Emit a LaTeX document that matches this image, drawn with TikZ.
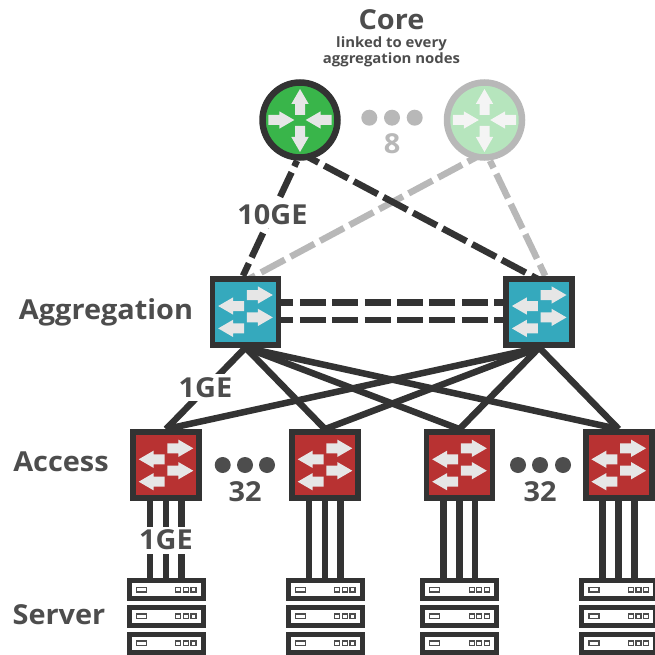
\documentclass[tikz,border=0pt]{standalone}
\usepackage{fontspec}
\setmainfont[FakeStretch=1.05]{Open Sans}
\usetikzlibrary{backgrounds}

\definecolor{linedark}{HTML}{333333}
\definecolor{linegrey}{HTML}{B8B8B8}
\definecolor{textdark}{HTML}{4D4D4D}
\definecolor{routergreen}{HTML}{39B54A}
\definecolor{routerpale}{HTML}{B6E5BD}
\definecolor{switchteal}{HTML}{35A9BD}
\definecolor{switchred}{HTML}{B83232}
\definecolor{glyphgrey}{HTML}{E6E6E6}
\definecolor{glyphpale}{HTML}{F4F4F4}

\tikzset{
  router/.style = {circle, draw = linedark, line width = 6.5pt, fill = routergreen, minimum size = 75pt, inner sep = 0pt},
  routerfaded/.style = {router, draw = linegrey, fill = routerpale},
  switchbox/.style = {rectangle, draw = linedark, line width = 5.8pt, minimum size = 66pt, inner sep = 0pt},
  server/.style = {rectangle, draw = linedark, line width = 5pt, fill = white, minimum width = 74pt, minimum height = 17.8pt, inner sep = 0pt},
  tierlabel/.style = {anchor = base, text = textdark, font = \bfseries\fontsize{27.5}{30}\selectfont, inner sep = 0pt},
  notelabel/.style = {anchor = base, text = textdark, font = \bfseries\fontsize{14.2}{18}\selectfont, inner sep = 0pt},
  speedlabel/.style = {tierlabel, anchor = center, fill = white, minimum height = 27pt, inner xsep = 1pt},
  dotdark/.style = {circle, fill = textdark, minimum size = 16pt, inner sep = 0pt},
  dotgrey/.style = {circle, fill = linegrey, minimum size = 16pt, inner sep = 0pt},
  link/.style = {draw = linedark, line width = 6.5pt},
  trunk/.style = {link, dash pattern = on 27pt off 6.5pt},
  trunkfaded/.style = {trunk, draw = linegrey},
  lag/.style = {link, dash pattern = on 26pt off 6.4pt, dash phase = 14pt},
  bay/.style = {draw = textdark, line width = 1.3pt}
}

\newcommand{\arrowglyph}[4]{
  \fill[#4, shift = {(#1, #2)}, rotate = #3] (0, -5) -- (11, -5) -- (11, -8.7) -- (26, 0) -- (11, 8.7) -- (11, 5) -- (0, 5) -- cycle;
}
\newcommand{\routerglyphs}[2]{
  \begin{scope}[shift = {(#1.center)}]
    \arrowglyph{0}{-5}{90}{#2}
    \arrowglyph{0}{6}{-90}{#2}
    \arrowglyph{-31.7}{0}{0}{#2}
    \arrowglyph{31.7}{0}{180}{#2}
  \end{scope}
}
\newcommand{\switchglyphs}[1]{
  \begin{scope}[shift = {(#1.center)}]
    \arrowglyph{1.3}{-16.7}{0}{glyphgrey}
    \arrowglyph{1.3}{5.7}{0}{glyphgrey}
    \arrowglyph{-1.3}{-5.7}{180}{glyphgrey}
    \arrowglyph{-1.3}{16.7}{180}{glyphgrey}
  \end{scope}
}
\newcommand{\serverbays}[1]{
  \begin{scope}[shift = {(#1.center)}]
    \draw[bay] (-29.7, -2.4) rectangle (-19.7, 2.4);
    \draw[bay] (9.7, -2.4) rectangle (14.7, 2.4);
    \draw[bay] (17.3, -2.4) rectangle (22.3, 2.4);
    \draw[bay] (25, -2.4) rectangle (30, 2.4);
  \end{scope}
}

\begin{document}
\begin{tikzpicture}[x = 1pt, y = -1pt]
\useasboundingbox (0, 0) rectangle (654, 655);

% tier names
\node[tierlabel] (coretitle) at (391.5, 29.3) {Core};
\node[notelabel] (corenote1) at (391.5, 47.7) {linked to every};
\node[notelabel] (corenote2) at (391.5, 63.3) {aggregation nodes};
\node[tierlabel] (aggtitle) at (106, 319.5) {Aggregation};
\node[tierlabel] (acctitle) at (61, 471.7) {Access};
\node[tierlabel] (srvtitle) at (59, 624) {Server};

% core
\node[router] (core1) at (300, 120) {};
\node[routerfaded] (core2) at (484.5, 120) {};
\routerglyphs{core1}{glyphgrey}
\routerglyphs{core2}{glyphpale}
\node[dotgrey] (coredot1) at (369.3, 117.7) {};
\node[dotgrey] (coredot2) at (392, 117.7) {};
\node[dotgrey] (coredot3) at (414.7, 117.7) {};
\node[tierlabel, text = linegrey] (corecount) at (392, 153.3) {8};

% aggregation
\node[switchbox, fill = switchteal] (agg1) at (245.5, 311.7) {};
\node[switchbox, fill = switchteal] (agg2) at (539.2, 311.7) {};
\switchglyphs{agg1}
\switchglyphs{agg2}

% access
\node[switchbox, fill = switchred] (acc1) at (166, 465) {};
\node[switchbox, fill = switchred] (acc2) at (325, 465) {};
\node[switchbox, fill = switchred] (acc3) at (459.5, 465) {};
\node[switchbox, fill = switchred] (acc4) at (618.7, 465) {};
\switchglyphs{acc1}
\switchglyphs{acc2}
\switchglyphs{acc3}
\switchglyphs{acc4}
\node[dotdark] (accdot1) at (222.7, 465) {};
\node[dotdark] (accdot2) at (245, 465) {};
\node[dotdark] (accdot3) at (267, 465) {};
\node[tierlabel] (acccount1) at (245, 501) {32};
\node[dotdark] (accdot4) at (518, 465) {};
\node[dotdark] (accdot5) at (540, 465) {};
\node[dotdark] (accdot6) at (563, 465) {};
\node[tierlabel] (acccount2) at (540, 501) {32};

% servers
\node[server] (srv1a) at (166, 589.7) {};
\node[server] (srv1b) at (166, 616.3) {};
\node[server] (srv1c) at (166, 643.3) {};
\node[server] (srv2a) at (325, 589.7) {};
\node[server] (srv2b) at (325, 616.3) {};
\node[server] (srv2c) at (325, 643.3) {};
\node[server] (srv3a) at (459.5, 589.7) {};
\node[server] (srv3b) at (459.5, 616.3) {};
\node[server] (srv3c) at (459.5, 643.3) {};
\node[server] (srv4a) at (618.7, 589.7) {};
\node[server] (srv4b) at (618.7, 616.3) {};
\node[server] (srv4c) at (618.7, 643.3) {};
\serverbays{srv1a}
\serverbays{srv1b}
\serverbays{srv1c}
\serverbays{srv2a}
\serverbays{srv2b}
\serverbays{srv2c}
\serverbays{srv3a}
\serverbays{srv3b}
\serverbays{srv3c}
\serverbays{srv4a}
\serverbays{srv4b}
\serverbays{srv4c}

% speed labels sit over the links
\node[speedlabel] (speed10) at (272.5, 214.5) {10GE};
\node[speedlabel] (speed1a) at (205.5, 387.6) {1GE};
\node[speedlabel] (speed1b) at (166, 540) {1GE};

\begin{scope}[on background layer]
\draw[trunkfaded, dash phase = 8pt] ([yshift = 8pt]core2.south) -- ([yshift = -5pt]agg1.north);
\draw[trunkfaded, dash phase = 18.9pt] ([xshift = 5.5pt]core2.south) -- ([xshift = 6pt]agg2.north);
\draw[trunk, dash phase = 20.7pt] ([xshift = -3pt]core1.south) -- ([xshift = -2.5pt]agg1.north);
\draw[trunk, dash phase = 6pt] ([yshift = 8pt]core1.south) -- ([yshift = -4pt]agg2.north);
\draw[lag] ([yshift = 9pt]agg1.east) -- ([yshift = 9pt]agg2.west);
\draw[lag] ([yshift = -8.3pt]agg1.east) -- ([yshift = -8.3pt]agg2.west);
\draw[link] (agg1.south) -- (acc1.north);
\draw[link] (agg1.south) -- (acc2.north);
\draw[link] (agg1.south) -- (acc3.north);
\draw[link] (agg1.south) -- (acc4.north);
\draw[link] (agg2.south) -- (acc1.north);
\draw[link] (agg2.south) -- (acc2.north);
\draw[link] (agg2.south) -- (acc3.north);
\draw[link] (agg2.south) -- (acc4.north);
\draw[link] ([xshift = -16pt]acc1.south) -- ([xshift = -16pt]srv1a.north);
\draw[link] (acc1.south) -- (srv1a.north);
\draw[link] ([xshift = 15.7pt]acc1.south) -- ([xshift = 15.7pt]srv1a.north);
\draw[link] ([xshift = -16pt]acc2.south) -- ([xshift = -16pt]srv2a.north);
\draw[link] (acc2.south) -- (srv2a.north);
\draw[link] ([xshift = 15.7pt]acc2.south) -- ([xshift = 15.7pt]srv2a.north);
\draw[link] ([xshift = -16pt]acc3.south) -- ([xshift = -16pt]srv3a.north);
\draw[link] (acc3.south) -- (srv3a.north);
\draw[link] ([xshift = 15.7pt]acc3.south) -- ([xshift = 15.7pt]srv3a.north);
\draw[link] ([xshift = -16pt]acc4.south) -- ([xshift = -16pt]srv4a.north);
\draw[link] (acc4.south) -- (srv4a.north);
\draw[link] ([xshift = 15.7pt]acc4.south) -- ([xshift = 15.7pt]srv4a.north);
\end{scope}
\end{tikzpicture}
\end{document}
